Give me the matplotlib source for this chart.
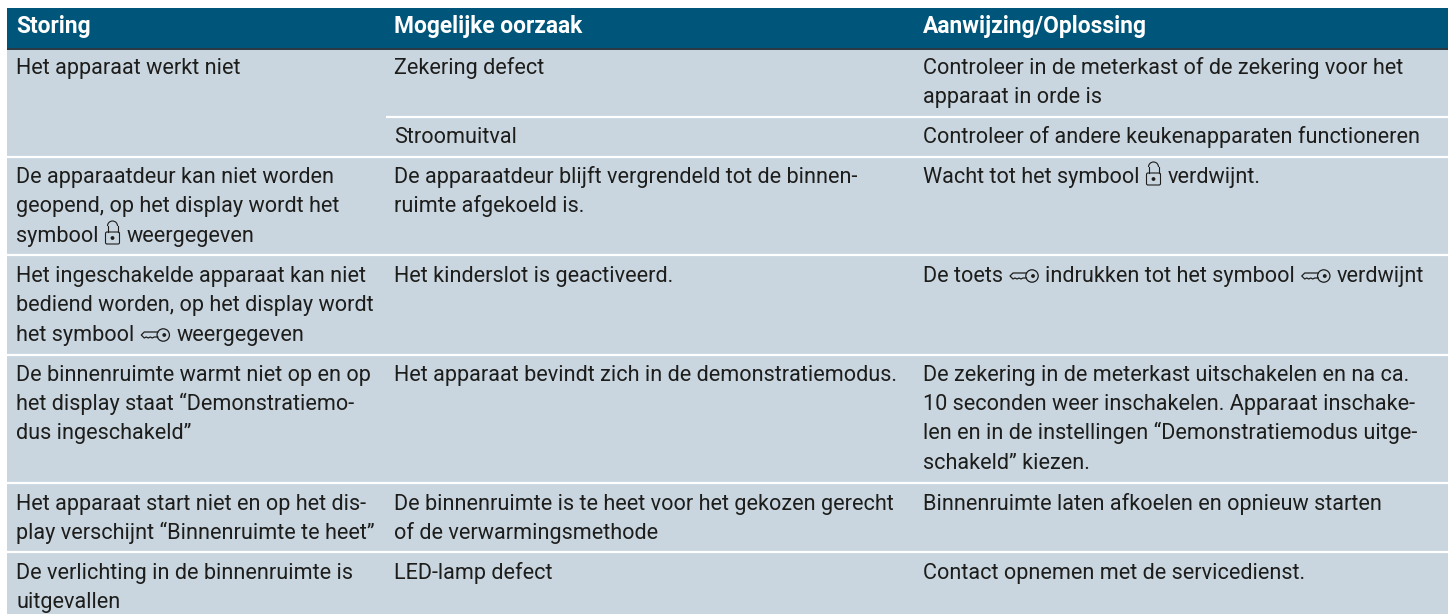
import matplotlib

matplotlib.use("Agg")
import matplotlib.pyplot as plt
from matplotlib.patches import Arc, Circle, FancyBboxPatch, Rectangle

plt.rcParams["font.family"] = ["Roboto", "Liberation Sans", "DejaVu Sans"]

LOCK = "{lock}"
KEY = "{key}"

headers = ["Storing", "Mogelijke oorzaak", "Aanwijzing/Oplossing"]

col1_lines = [
    (74, "Het apparaat werkt niet"),
    (183, "De apparaatdeur kan niet worden"),
    (212, "geopend, op het display wordt het"),
    (242, f"symbool {LOCK} weergegeven"),
    (282, "Het ingeschakelde apparaat kan niet"),
    (311.5, "bediend worden, op het display wordt"),
    (341, f"het symbool {KEY} weergegeven"),
    (381, "De binnenruimte warmt niet op en op"),
    (410, "het display staat “Demonstratiemo-"),
    (439.5, "dus ingeschakeld”"),
    (510, "Het apparaat start niet en op het dis-"),
    (539.5, "play verschijnt “Binnenruimte te heet”"),
    (578.5, "De verlichting in de binnenruimte is"),
    (608, "uitgevallen"),
]
col2_lines = [
    (74, "Zekering defect"),
    (143, "Stroomuitval"),
    (183, "De apparaatdeur blijft vergrendeld tot de binnen-"),
    (212, "ruimte afgekoeld is."),
    (282, "Het kinderslot is geactiveerd."),
    (381, "Het apparaat bevindt zich in de demonstratiemodus."),
    (510, "De binnenruimte is te heet voor het gekozen gerecht"),
    (539.5, "of de verwarmingsmethode"),
    (578.5, "LED-lamp defect"),
]
col3_lines = [
    (74, "Controleer in de meterkast of de zekering voor het"),
    (103, "apparaat in orde is"),
    (143, "Controleer of andere keukenapparaten functioneren"),
    (183, f"Wacht tot het symbool {LOCK} verdwijnt."),
    (282, f"De toets {KEY} indrukken tot het symbool {KEY} verdwijnt"),
    (381, "De zekering in de meterkast uitschakelen en na ca."),
    (410, "10 seconden weer inschakelen. Apparaat inschake-"),
    (439.5, "len en in de instellingen “Demonstratiemodus uitge-"),
    (469, "schakeld” kiezen."),
    (510, "Binnenruimte laten afkoelen en opnieuw starten"),
    (578.5, "Contact opnemen met de servicedienst."),
]

col_x = [16, 394, 923]
row_rules = [157, 255, 355, 482.5, 552]
sub_rule = 117

HEADER = "#00567a"
BODY = "#c9d6e0"
INK = "#1d1d1b"
FONT_SIZE = 15.6
HEADER_SIZE = 16.4

fig = plt.figure(figsize=(14.48, 6.14), dpi=100)
ax = fig.add_axes([0, 0, 1, 1])
ax.set_xlim(0, 1448)
ax.set_ylim(614, 0)
ax.axis("off")


def draw_lock(x, base):
    # body 12 px high on the baseline, shackle above it
    ax.add_patch(FancyBboxPatch((x + 1, base - 10), 14, 12, boxstyle="round,pad=0,rounding_size=1.5",
                                fill=False, ec=INK, lw=0.8))
    ax.add_patch(Arc((x + 8, base - 16), 10, 10, theta1=180, theta2=360, ec=INK, lw=0.8))
    ax.plot([x + 3, x + 3], [base - 16, base - 10], color=INK, lw=0.8)
    ax.plot([x + 13, x + 13], [base - 16, base - 10], color=INK, lw=0.8)
    ax.add_patch(Circle((x + 8, base - 4), 1.2, color=INK))
    return 16


def draw_key(x, base):
    mid = base - 6
    ax.add_patch(Circle((x + 23, mid), 6.2, fill=False, ec=INK, lw=0.9))
    ax.add_patch(Circle((x + 24, mid), 1.2, color=INK))
    ax.plot([x + 17.5, x + 4, x + 1, x + 4, x + 6, x + 8, x + 10, x + 12, x + 14, x + 17.5],
            [mid - 3, mid - 3, mid, mid + 3, mid + 2, mid + 3, mid + 2, mid + 3, mid + 2, mid + 2],
            color=INK, lw=0.9)
    return 30


def draw_line(x, base, line):
    renderer = fig.canvas.get_renderer()
    parts = line.replace(LOCK, "\0L\0").replace(KEY, "\0K\0").split("\0")
    for part in parts:
        if part == "L":
            x += draw_lock(x, base)
        elif part == "K":
            x += draw_key(x, base)
        elif part:
            # spaces at the ends do not count in the extent, keep them by hand
            if part.startswith(" "):
                x += 6
            t = ax.text(x, base, part.strip(), va="baseline", ha="left", fontsize=FONT_SIZE, color=INK)
            x += t.get_window_extent(renderer).width
            if part.endswith(" "):
                x += 6


ax.add_patch(Rectangle((7, 8), 1441, 40, color=HEADER, lw=0))
ax.add_patch(Rectangle((7, 48), 1441, 1.5, color="#2b3a44", lw=0))
ax.add_patch(Rectangle((7, 49.5), 1441, 564.5, color=BODY, lw=0))

for rule in row_rules:
    ax.plot([7, 1448], [rule, rule], color="white", lw=1.6, solid_capstyle="butt")
ax.plot([386, 1448], [sub_rule, sub_rule], color="white", lw=1.6, solid_capstyle="butt")

for x, label in zip(col_x, headers):
    ax.text(x, 33.5, label, color="white", fontsize=HEADER_SIZE, fontweight="bold", va="baseline", ha="left")

for x, lines in zip(col_x, [col1_lines, col2_lines, col3_lines]):
    for base, line in lines:
        draw_line(x, base, line)

fig.savefig("out.png", dpi=100, facecolor="white")
